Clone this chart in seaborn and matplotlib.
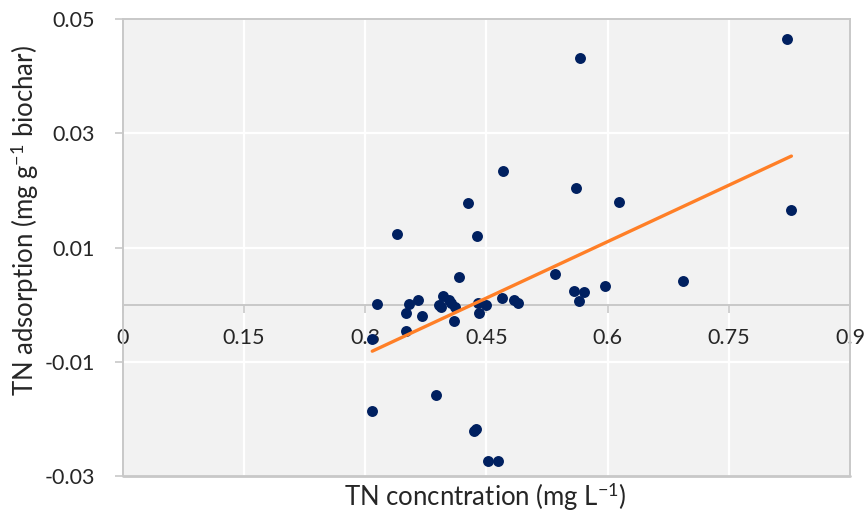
# TN adsorption vs TN concentration — scatter with linear trendline
import numpy as np
import pandas as pd
import matplotlib
matplotlib.use('Agg')
import matplotlib.pyplot as plt
import seaborn as sns

# ── data ──────────────────────────────────────────────────────
tn_conc = [0.309, 0.351, 0.309, 0.388, 0.4347, 0.437, 0.452, 0.464,
           0.471, 0.428, 0.339, 0.439, 0.416, 0.535, 0.315, 0.354,
           0.365, 0.351, 0.371, 0.397, 0.404, 0.391, 0.394, 0.407,
           0.411, 0.410, 0.440, 0.4495, 0.4405, 0.4697, 0.4845, 0.4887,
           0.5657, 0.8217, 0.5611, 0.6136, 0.8275, 0.5587, 0.5707, 0.5649,
           0.5963, 0.6935]
tn_ads = [-0.0060, -0.0047, -0.0187, -0.0159, -0.0221, -0.0218, -0.0274, -0.0274,
          0.0234, 0.0178, 0.0123, 0.0121, 0.0049, 0.0053, 0.0001, 0.0001,
          0.0008, -0.0015, -0.0020, 0.0015, 0.0009, -0.0001, -0.0004, 0.0003,
          -0.0004, -0.0029, 0.0003, -0.0001, -0.0014, 0.0012, 0.0008, 0.0003,
          0.0432, 0.0465, 0.0204, 0.0179, 0.0166, 0.0024, 0.0022, 0.0007,
          0.0033, 0.0042]
x_ticks = [0, 0.15, 0.3, 0.45, 0.6, 0.75, 0.9]
x_labels = ['0', '0.15', '0.3', '0.45', '0.6', '0.75', '0.9']
y_ticks = [-0.03, -0.01, 0.01, 0.03, 0.05]
y_labels = ['-0.03', '-0.01', '0.01', '0.03', '0.05']

df = pd.DataFrame({'conc': tn_conc, 'ads': tn_ads})

# ── style ─────────────────────────────────────────────────────
sns.set_theme(style='white')
plt.rcParams['font.family'] = ['Lato', 'DejaVu Sans']
plt.rcParams['mathtext.fontset'] = 'custom'
plt.rcParams['mathtext.rm'] = 'Lato'
plt.rcParams['mathtext.it'] = 'Lato:italic'

NAVY = '#002060'
ORANGE = '#FF7F27'
FRAME = '#C8C8C8'

fig = plt.figure(figsize=(8.67, 5.14), dpi=100)
ax = fig.add_axes([0.1413, 0.0739, 0.9804 - 0.1413, 0.963 - 0.0739])
ax.set_facecolor('#F2F2F2')

sns.regplot(data=df, x='conc', y='ads', ax=ax, ci=None,
            scatter_kws=dict(s=62, color=NAVY, alpha=1, linewidths=0),
            line_kws=dict(color=ORANGE, lw=2.4))

ax.set_xlim(0, 0.9)
ax.set_ylim(-0.03, 0.05)
ax.set_xticks(x_ticks, x_labels)
ax.set_yticks(y_ticks, y_labels)

# grid: white lines on grey background
for xv in x_ticks[1:-1]:
    ax.axvline(xv, color='white', lw=1.6, zorder=0.5)
for yv in y_ticks[1:-1]:
    ax.axhline(yv, color='white', lw=1.6, zorder=0.5)

# x axis crosses at y = 0, keep a frame around the plot area
ax.spines['bottom'].set_position(('data', 0))
for s in ax.spines.values():
    s.set_color(FRAME)
    s.set_linewidth(1.4)
    s.set_zorder(0.8)
ax.axhline(-0.03, color=FRAME, lw=2.0, clip_on=False, zorder=0.8)

ax.tick_params(axis='x', direction='out', length=6, width=1.2, color=FRAME,
               pad=11, labelsize=15.5, bottom=True)
ax.tick_params(axis='y', direction='out', length=6, width=1.2, color=FRAME,
               pad=14, labelsize=15.5, left=True)

ax.set_xlabel('')
ax.set_ylabel('')
fig.text(25 / 867, 1 - 221 / 514, 'TN adsorption (mg g$^{-1}$ biochar)',
         fontsize=18.5, rotation=90, ha='center', va='center')
fig.text(485 / 867, 1 - 497 / 514, 'TN concntration (mg L$^{-1}$)',
         fontsize=18.5, ha='center', va='center')

fig.savefig('out.png', dpi=100)
